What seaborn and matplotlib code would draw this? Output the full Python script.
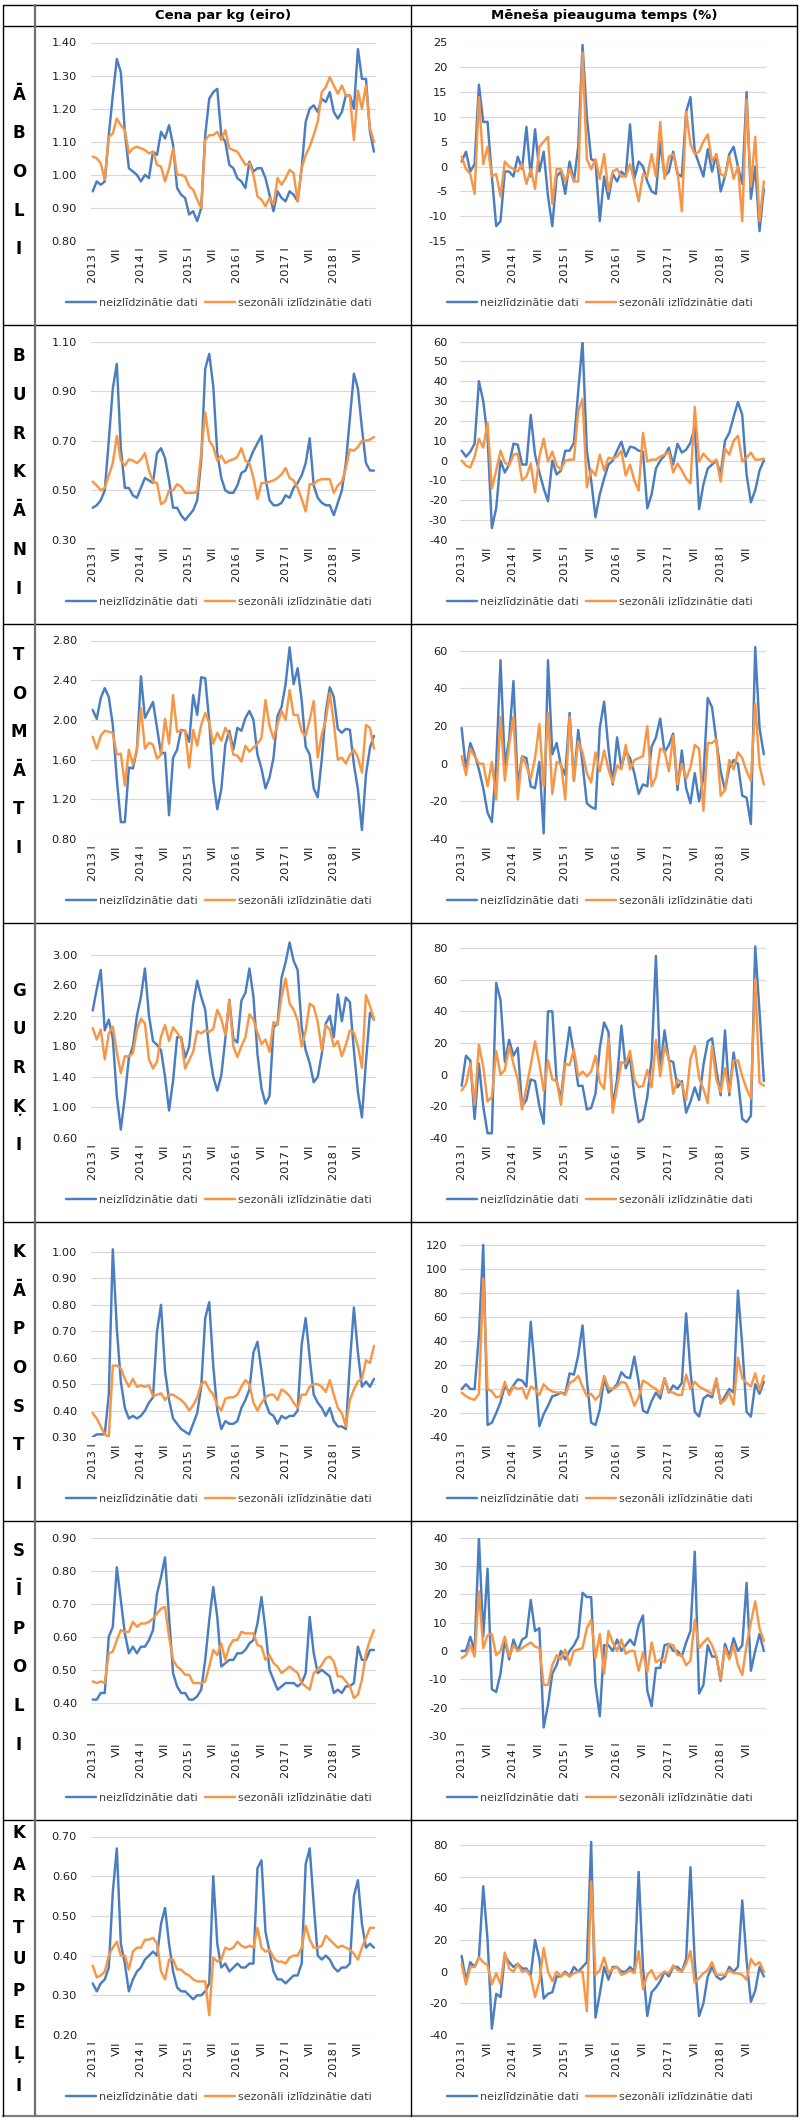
import numpy as np
import pandas as pd
import matplotlib
matplotlib.use("Agg")
import matplotlib.pyplot as plt
import seaborn as sns

sns.set_theme(style="white")
plt.rcParams["font.family"] = ["DejaVu Sans"]

# ---------------- data ----------------
tick_labels = ["2013 I", "VII", "2014 I", "VII", "2015 I", "VII",
               "2016 I", "VII", "2017 I", "VII", "2018 I", "VII"]
series_labels = ["neizlīdzinātie dati", "sezonāli izlīdzinātie dati"]
header_left = "Cena par kg (eiro)"
header_right = "Mēneša pieauguma temps (%)"
products = ["ĀBOLI", "BURKĀNI", "TOMĀTI", "GURĶI", "KĀPOSTI", "SĪPOLI", "KARTUPEĻI"]

aboli_price_raw = [0.95, 0.98, 0.97, 0.98, 1.12, 1.24, 1.35, 1.31, 1.13, 1.02,
                   1.01, 1.00, 0.98, 1.00, 0.99, 1.07, 1.06, 1.13, 1.11, 1.15,
                   1.09, 0.96, 0.94, 0.93, 0.88, 0.89, 0.86, 0.90, 1.12, 1.23,
                   1.25, 1.26, 1.12, 1.10, 1.03, 1.02, 0.99, 0.98, 0.96, 1.04,
                   1.01, 1.02, 1.02, 0.99, 0.94, 0.89, 0.95, 0.93, 0.92, 0.95,
                   0.94, 0.92, 1.02, 1.16, 1.20, 1.21, 1.19, 1.23, 1.22, 1.25,
                   1.19, 1.17, 1.19, 1.24, 1.24, 1.20, 1.38, 1.29, 1.29, 1.13, 1.07]
aboli_price_sa = [1.055, 1.05, 1.035, 0.985, 1.115, 1.125, 1.17, 1.15, 1.135, 1.065,
                  1.08, 1.085, 1.08, 1.075, 1.065, 1.07, 1.03, 1.025, 0.98, 1.02,
                  1.08, 1.00, 1.00, 0.995, 0.965, 0.955, 0.925, 0.90, 1.105, 1.12,
                  1.12, 1.13, 1.105, 1.135, 1.08, 1.075, 1.07, 1.05, 1.03, 1.035,
                  1.00, 0.935, 0.925, 0.905, 0.93, 0.91, 0.99, 0.97, 0.99, 1.015,
                  1.005, 0.92, 1.02, 1.06, 1.085, 1.12, 1.16, 1.25, 1.265, 1.295,
                  1.27, 1.245, 1.27, 1.24, 1.24, 1.105, 1.255, 1.20, 1.27, 1.14, 1.10]
aboli_growth_raw = [1, 3, -1, 0.5, 16.5, 9, 9, -2, -12, -11,
                    -1, -1, -2, 2, -0.5, 8, -2, 7.5, -1, 3,
                    -6, -12, -2, -1, -5.5, 1, -3, 4, 24.5, 10,
                    1.5, 1, -11, -2, -6.5, -1.5, -3, -1, -2, 8.5,
                    -2.5, 1, 0, -3, -5, -5.5, 5, -2, -1, 3,
                    -1.5, -2, 11, 14, 3, 0.5, -2, 3.5, -1, 2.5,
                    -5, -2, 2.5, 4, 0, -3.5, 15, -6.5, 0, -13, -4.5]
aboli_growth_sa = [2, -0.5, -1.5, -5.5, 14, 0.5, 4, -2, -1.5, -6,
                   1, 0, -0.5, -1, 0.5, -3.5, -0.5, -4.5, 4, 5,
                   6, -7.5, -0.5, -0.5, -3, -0.5, -3, -3, 23, 1.5,
                   -0.5, 1.5, -2.5, 2.5, -5, -1, -0.5, -2, -2, 0.5,
                   -3, -7, -1.5, -2, 2.5, -2, 9, -2.5, 2, 2.5,
                   -1, -9, 11, 4.5, 2.5, 3, 5, 6.5, 1, 2.5,
                   -1.5, -2, 2, -2.5, 0, -11, 13.5, -4, 6, -11, -3]

burkani_price_raw = [0.43, 0.44, 0.46, 0.50, 0.70, 0.91, 1.01, 0.67, 0.51, 0.51,
                     0.48, 0.47, 0.51, 0.55, 0.54, 0.53, 0.65, 0.67, 0.63, 0.54,
                     0.43, 0.43, 0.40, 0.38, 0.40, 0.42, 0.46, 0.62, 0.99, 1.05,
                     0.92, 0.65, 0.55, 0.50, 0.49, 0.49, 0.52, 0.57, 0.58, 0.62,
                     0.66, 0.69, 0.72, 0.55, 0.46, 0.44, 0.44, 0.45, 0.48, 0.47,
                     0.51, 0.53, 0.56, 0.61, 0.71, 0.52, 0.47, 0.45, 0.44, 0.44,
                     0.40, 0.45, 0.50, 0.61, 0.79, 0.97, 0.91, 0.75, 0.61, 0.58, 0.58]
burkani_price_sa = [0.535, 0.52, 0.50, 0.51, 0.56, 0.61, 0.72, 0.62, 0.60, 0.625,
                    0.62, 0.61, 0.625, 0.65, 0.58, 0.535, 0.53, 0.445, 0.455, 0.50,
                    0.50, 0.525, 0.515, 0.49, 0.49, 0.49, 0.495, 0.65, 0.815, 0.70,
                    0.675, 0.62, 0.64, 0.61, 0.62, 0.625, 0.635, 0.67, 0.62, 0.61,
                    0.55, 0.465, 0.53, 0.53, 0.535, 0.54, 0.55, 0.565, 0.59, 0.55,
                    0.54, 0.51, 0.465, 0.415, 0.525, 0.525, 0.54, 0.545, 0.545, 0.545,
                    0.49, 0.52, 0.535, 0.59, 0.665, 0.66, 0.675, 0.70, 0.70, 0.705, 0.715]
burkani_growth_raw = [5, 2, 4.5, 8.5, 40, 30, 12, -34, -24, 0,
                      -6, -2, 8.5, 8, -2, -2, 23, 3, -6, -14,
                      -20.5, 0, -7, -5, 5, 5, 9, 35, 60, 5,
                      -10, -28.5, -17, -9, -2, 0, 5, 9.5, 2, 7,
                      6.5, 5, 4.5, -24, -17, -4, 0, 2.5, 6.5, -2,
                      8.5, 4, 5.5, 9, 17, -24.5, -12, -4, -2, 0,
                      -7, 10, 14, 22, 29.5, 23, -7, -21, -15, -5, 0]
burkani_growth_sa = [0, -2.5, -3.5, 2, 11, 6.5, 19, -14, -5, 5,
                     -1, -2.5, 3, 3.5, -10, -8, -1.5, -16, 2, 11,
                     -0.5, 4.5, -2.5, -4.5, 0, 0.5, 0.5, 25, 31, -13.5,
                     -4.5, -7.5, 3, -5, 1.5, 1, 2, 5, -7.5, -2,
                     -10, -15, 14, -0.5, 0.5, 0.5, 2, 3, 4.5, -6,
                     -1.5, -5, -9, -11.5, 27, -0.5, 3.5, 1, -1, 0.5,
                     -10.5, 6, 3, 10, 12.5, -0.5, 1.5, 4, 0.5, 0.5, 1]

tomati_price_raw = [2.10, 2.01, 2.22, 2.32, 2.23, 1.95, 1.40, 0.97, 0.97, 1.52,
                    1.51, 1.70, 2.44, 2.02, 2.10, 2.18, 1.92, 1.66, 1.67, 1.04,
                    1.62, 1.70, 1.90, 1.89, 1.78, 2.25, 2.05, 2.43, 2.42, 1.98,
                    1.40, 1.10, 1.30, 1.75, 1.89, 1.70, 1.92, 1.89, 2.02, 2.09,
                    2.00, 1.65, 1.51, 1.31, 1.42, 1.62, 2.04, 2.13, 2.36, 2.73,
                    2.36, 2.52, 2.20, 1.73, 1.65, 1.31, 1.22, 1.60, 2.08, 2.33,
                    2.23, 1.91, 1.87, 1.91, 1.90, 1.55, 1.30, 0.89, 1.45, 1.72, 1.84]
tomati_price_sa = [1.83, 1.71, 1.84, 1.89, 1.88, 1.87, 1.65, 1.66, 1.34, 1.70,
                   1.55, 1.70, 2.12, 1.71, 1.77, 1.75, 1.61, 1.65, 2.01, 1.76,
                   2.25, 1.88, 1.89, 1.89, 1.52, 1.90, 1.74, 1.95, 2.07, 1.97,
                   1.76, 1.87, 1.79, 1.92, 1.85, 1.65, 1.64, 1.58, 1.74, 1.68,
                   1.72, 1.76, 1.82, 2.20, 1.94, 1.81, 1.96, 2.09, 2.00, 2.30,
                   2.05, 2.05, 1.88, 1.84, 2.00, 2.19, 1.62, 1.85, 2.00, 2.27,
                   1.97, 1.60, 1.62, 1.56, 1.65, 1.70, 1.62, 1.47, 1.95, 1.92, 1.71]
tomati_growth_raw = [19, -3, 11, 5, -3, -13, -26, -31, 0, 55,
                     -1, 13, 44, -12, 4, 3, -12, -13, 1, -37,
                     55, 5, 11, -1, -6, 27, -9, 18, 0, -21,
                     -23, -24, 19, 33, 8, -11, 14, -2, 7, 3,
                     -5, -16, -11, -12, 9, 14, 24, 6, 10, 16,
                     -14, 7, -13, -21, -5, -20, -7, 35, 30, 12,
                     -4, -14, -2, 2, 0, -17, -18, -32, 62, 19, 5]
tomati_growth_sa = [4, -6, 8, 4, 0, 0, -12, 1, -19, 25,
                    -9, 10, 25, -19, 4, -1, -8, 3, 21, -12,
                    27, -16, 1, 0, -19, 25, -9, 12, 6, -5,
                    -10, 6, -4, 7, -3, -10, -1, -3, 10, -3,
                    2, 3, 4, 20, -12, -7, 8, 7, -4, 15,
                    -11, 0, -8, -2, 10, 8, -25, 11, 11, 13,
                    -17, -14, 2, -3, 6, 3, -4, -9, 32, -1, -11]

gurki_price_raw = [2.27, 2.55, 2.80, 2.01, 2.15, 1.90, 1.15, 0.71, 1.14, 1.65,
                   1.80, 2.20, 2.45, 2.82, 2.20, 1.87, 1.82, 1.75, 1.40, 0.96,
                   1.35, 1.92, 1.92, 1.65, 1.80, 2.35, 2.66, 2.45, 2.28, 1.75,
                   1.40, 1.22, 1.42, 1.90, 2.41, 1.90, 1.85, 2.40, 2.50, 2.82,
                   2.45, 1.70, 1.25, 1.05, 1.15, 2.05, 2.10, 2.70, 2.90, 3.16,
                   2.92, 2.80, 2.05, 1.75, 1.58, 1.33, 1.40, 1.70, 2.10, 2.20,
                   1.92, 2.48, 2.13, 2.44, 2.38, 1.75, 1.20, 0.87, 1.60, 2.24, 2.15]
gurki_price_sa = [2.04, 1.89, 2.02, 1.63, 1.97, 2.06, 1.72, 1.45, 1.67, 1.67,
                  1.71, 2.02, 2.16, 2.10, 1.63, 1.51, 1.60, 1.93, 2.08, 1.87,
                  2.05, 1.98, 1.90, 1.51, 1.62, 1.73, 2.00, 1.97, 2.01, 1.99,
                  2.03, 2.28, 2.16, 1.95, 2.40, 1.80, 1.66, 1.80, 1.92, 2.22,
                  2.15, 1.98, 1.83, 1.89, 1.73, 2.12, 2.08, 2.45, 2.69, 2.36,
                  2.28, 2.14, 1.80, 2.00, 2.36, 2.32, 2.12, 1.75, 2.08, 2.02,
                  1.80, 1.87, 1.67, 1.82, 2.01, 1.98, 1.80, 1.52, 2.47, 2.33, 2.15]
gurki_growth_raw = [-7, 12, 9, -28, 7, -20, -37, -37, 58, 47,
                    8, 22, 12, 17, -20, -16, -3, -4, -20, -31,
                    40, 40, -4, -15, 10, 30, 13, -7, -7, -22,
                    -21, -12, 17, 33, 27, -20, -3, 31, 4, 11,
                    -13, -30, -28, -14, 10, 75, 3, 28, 9, 8,
                    -8, -4, -24, -17, -8, -16, 6, 21, 23, 3,
                    -13, 28, -13, 14, -3, -28, -30, -26, 81, 40, -4]
gurki_growth_sa = [-10, -6, 7, -19, 19, 5, -17, -14, 15, 0,
                   3, 18, 7, -3, -22, -8, 6, 21, 7, -10,
                   9, -3, -4, -19, 7, 6, 16, -1, 2, -1,
                   2, 12, -5, -9, 23, -24, -8, 8, 7, 15,
                   -3, -8, -7, 3, -8, 22, -1, 18, 10, -12,
                   -3, -6, -16, 10, 18, -2, -9, -18, 18, -3,
                   -11, 4, -11, 9, 9, -1, -9, -15, 60, -5, -7]

kaposti_price_raw = [0.30, 0.31, 0.31, 0.31, 0.46, 1.01, 0.71, 0.51, 0.41, 0.37,
                     0.38, 0.37, 0.38, 0.40, 0.43, 0.45, 0.70, 0.80, 0.55, 0.44,
                     0.37, 0.35, 0.33, 0.32, 0.31, 0.35, 0.39, 0.49, 0.75, 0.81,
                     0.57, 0.40, 0.33, 0.36, 0.35, 0.35, 0.36, 0.41, 0.44, 0.48,
                     0.62, 0.66, 0.55, 0.43, 0.39, 0.38, 0.35, 0.38, 0.37, 0.38,
                     0.38, 0.40, 0.65, 0.75, 0.60, 0.46, 0.43, 0.41, 0.38, 0.41,
                     0.36, 0.34, 0.34, 0.33, 0.58, 0.79, 0.62, 0.49, 0.51, 0.49, 0.52]
kaposti_price_sa = [0.39, 0.37, 0.34, 0.31, 0.30, 0.57, 0.57, 0.56, 0.52, 0.49,
                    0.52, 0.49, 0.495, 0.49, 0.495, 0.455, 0.46, 0.465, 0.44, 0.46,
                    0.46, 0.45, 0.44, 0.425, 0.40, 0.42, 0.45, 0.50, 0.51, 0.48,
                    0.46, 0.42, 0.40, 0.445, 0.45, 0.45, 0.46, 0.49, 0.515, 0.50,
                    0.43, 0.40, 0.43, 0.45, 0.46, 0.46, 0.44, 0.48, 0.47, 0.455,
                    0.43, 0.41, 0.46, 0.46, 0.49, 0.50, 0.50, 0.49, 0.47, 0.515,
                    0.46, 0.41, 0.39, 0.34, 0.44, 0.48, 0.51, 0.52, 0.59, 0.58, 0.645]
kaposti_growth_raw = [0, 4, 0, 0, 45, 120, -30, -28, -20, -11,
                      3, -3, 3, 8, 7, 2, 56, 14, -31, -21,
                      -14, -6, -5, -3, -4, 13, 12, 28, 53, 8,
                      -28, -30, -17, 9, -3, 0, 4, 14, 10, 9,
                      27, 6, -18, -20, -10, -3, -8, 9, -3, 3,
                      0, 5, 63, 15, -19, -23, -8, -5, -7, 8,
                      -12, -6, 0, -3, 82, 36, -19, -23, 4, -4, 6]
kaposti_growth_sa = [-3, -6, -8, -9, -4, 92, 0, -2, -7, -6,
                     6, -5, 2, 0, 1, -8, 2, 0, -5, 4,
                     0, -2, -3, -3, -5, 5, 7, 11, 2, -6,
                     -4, -9, -5, 11, 1, 0, 2, 6, 5, -3,
                     -14, -7, 7, 5, 2, 0, -4, 9, -2, -3,
                     -5, -5, 12, 0, 6, 2, 0, -2, -4, 9,
                     -12, -9, -3, -13, 26, 9, 5, 2, 13, -1, 11]

sipoli_price_raw = [0.41, 0.41, 0.43, 0.43, 0.60, 0.63, 0.81, 0.71, 0.61, 0.55,
                    0.57, 0.55, 0.57, 0.57, 0.59, 0.62, 0.73, 0.78, 0.84, 0.66,
                    0.49, 0.45, 0.43, 0.43, 0.41, 0.41, 0.42, 0.44, 0.53, 0.65,
                    0.75, 0.66, 0.51, 0.52, 0.53, 0.53, 0.55, 0.55, 0.56, 0.58,
                    0.59, 0.64, 0.72, 0.62, 0.50, 0.47, 0.44, 0.45, 0.46, 0.46,
                    0.46, 0.45, 0.46, 0.49, 0.66, 0.55, 0.49, 0.50, 0.49, 0.48,
                    0.43, 0.44, 0.43, 0.45, 0.45, 0.46, 0.57, 0.53, 0.53, 0.56, 0.56]
sipoli_price_sa = [0.465, 0.46, 0.465, 0.46, 0.55, 0.555, 0.59, 0.62, 0.615, 0.615,
                   0.645, 0.63, 0.64, 0.64, 0.645, 0.655, 0.67, 0.685, 0.69, 0.60,
                   0.53, 0.51, 0.50, 0.485, 0.485, 0.46, 0.46, 0.46, 0.465, 0.51,
                   0.56, 0.545, 0.58, 0.53, 0.57, 0.59, 0.59, 0.615, 0.61, 0.61,
                   0.61, 0.575, 0.57, 0.53, 0.545, 0.52, 0.51, 0.49, 0.50, 0.51,
                   0.50, 0.49, 0.46, 0.45, 0.44, 0.49, 0.50, 0.515, 0.535, 0.54,
                   0.525, 0.48, 0.48, 0.465, 0.45, 0.415, 0.425, 0.47, 0.55, 0.59, 0.62]
sipoli_growth_raw = [0, 0, 5, 0, 40, 5, 29, -13.5, -14.5, -8,
                     4, -3, 4, 0, 4, 5, 18, 7, 8, -27,
                     -19, -8, -5, 0, -3, 0, 2, 5, 20.5, 19,
                     19, -12, -23, 2, 2, 0, 4, 0, 2, 4,
                     2, 9, 12.5, -14, -19.5, -6, -6, 2, 2.5, 0,
                     0, -2, 3, 7, 35, -15, -12, 2, -2, -2,
                     -10.5, 2.5, -2, 4.5, 0, 2, 24, -7, 0, 6, 0]
sipoli_growth_sa = [-2.5, -1.5, 2, -2, 21, 1, 5.5, 6, -1.5, 0,
                    5, -2, 2, 0, 1, 2, 3, 1.5, 1, -12,
                    -12, -5, -1.5, -3, 0.5, -5, 0, 0.5, 1, 8,
                    11, -2.5, 6, -8, 7, 3, 0, 4, -1, 0,
                    0, -7, -0.5, -7.5, 3, -4, -3, -4, 2.5, 2,
                    -1.5, -1.5, -5, -3.5, 11, 1, 3, 4.5, 2, -2,
                    -10, 1, -3, 2, -5, -8.5, 2, 10, 17.5, 8, 3.5]

kartupeli_price_raw = [0.33, 0.31, 0.33, 0.34, 0.37, 0.56, 0.67, 0.43, 0.38, 0.31,
                       0.34, 0.36, 0.37, 0.39, 0.40, 0.41, 0.40, 0.48, 0.52, 0.43,
                       0.36, 0.32, 0.31, 0.31, 0.30, 0.29, 0.30, 0.30, 0.31, 0.33,
                       0.60, 0.43, 0.37, 0.38, 0.36, 0.37, 0.38, 0.37, 0.37, 0.38,
                       0.38, 0.62, 0.64, 0.46, 0.41, 0.36, 0.34, 0.34, 0.33, 0.34,
                       0.35, 0.35, 0.38, 0.63, 0.67, 0.53, 0.40, 0.39, 0.40, 0.39,
                       0.37, 0.36, 0.37, 0.37, 0.38, 0.55, 0.59, 0.48, 0.42, 0.43, 0.42]
kartupeli_price_sa = [0.375, 0.345, 0.35, 0.36, 0.40, 0.42, 0.435, 0.40, 0.40, 0.365,
                      0.41, 0.42, 0.42, 0.44, 0.44, 0.445, 0.43, 0.36, 0.34, 0.39,
                      0.39, 0.365, 0.365, 0.355, 0.35, 0.34, 0.335, 0.335, 0.335, 0.25,
                      0.395, 0.385, 0.39, 0.42, 0.415, 0.42, 0.435, 0.425, 0.42, 0.425,
                      0.42, 0.47, 0.42, 0.41, 0.415, 0.395, 0.385, 0.385, 0.38, 0.395,
                      0.40, 0.40, 0.42, 0.475, 0.44, 0.42, 0.42, 0.425, 0.45, 0.44,
                      0.43, 0.42, 0.425, 0.42, 0.415, 0.405, 0.39, 0.42, 0.445, 0.47, 0.47]
kartupeli_growth_raw = [10, -6, 6, 3, 9, 54, 20, -36, -14, -16,
                        10, 6, 3, 5, 2, 2, -2, 20, 8, -17,
                        -14, -13, -3, -3, 0, -3, 3, 0, 3, 6,
                        82, -29, -14, 3, -5, 3, 3, 0, 0, 3,
                        0, 63, 3, -28, -13, -10, -6, 0, -3, 3,
                        3, 0, 8, 66, 6, -28, -20, -3, 3, -3,
                        -5, -3, 3, 0, 3, 45, 7, -19, -12, 3, -3]
kartupeli_growth_sa = [5, -8, 3, 3, 9, 6, 4, -8, -1, -8,
                       12, 2, 0, 5, 0, 1, -3, -16, -6, 15,
                       0, -6, 0, -3, -1, -3, -1, 0, 0, -25,
                       57, -2, 1, 9, -1, 2, 3, -2, -1, 1,
                       -1, 13, -11, -2, 1, -5, -2, 0, -1, 4,
                       1, 0, 5, 13, -7, -4, -1, 1, 6, -2,
                       -2, -2, 1, -1, -1, -2, -5, 8, 4, 6, 0]

price_yticks = [
    [0.80, 0.90, 1.00, 1.10, 1.20, 1.30, 1.40],
    [0.30, 0.50, 0.70, 0.90, 1.10],
    [0.80, 1.20, 1.60, 2.00, 2.40, 2.80],
    [0.60, 1.00, 1.40, 1.80, 2.20, 2.60, 3.00],
    [0.30, 0.40, 0.50, 0.60, 0.70, 0.80, 0.90, 1.00],
    [0.30, 0.40, 0.50, 0.60, 0.70, 0.80, 0.90],
    [0.20, 0.30, 0.40, 0.50, 0.60, 0.70],
]
growth_yticks = [
    [-15, -10, -5, 0, 5, 10, 15, 20, 25],
    [-40, -30, -20, -10, 0, 10, 20, 30, 40, 50, 60],
    [-40, -20, 0, 20, 40, 60],
    [-40, -20, 0, 20, 40, 60, 80],
    [-40, -20, 0, 20, 40, 60, 80, 100, 120],
    [-30, -20, -10, 0, 10, 20, 30, 40],
    [-40, -20, 0, 20, 40, 60, 80],
]
price_ymax = [1.40, 1.10, 2.80, 3.20, 1.051, 0.90, 0.70]
growth_ymax = [25, 60, 65.5, 85.4, 125.4, 40, 85.4]

rows = [
    (aboli_price_raw, aboli_price_sa, aboli_growth_raw, aboli_growth_sa),
    (burkani_price_raw, burkani_price_sa, burkani_growth_raw, burkani_growth_sa),
    (tomati_price_raw, tomati_price_sa, tomati_growth_raw, tomati_growth_sa),
    (gurki_price_raw, gurki_price_sa, gurki_growth_raw, gurki_growth_sa),
    (kaposti_price_raw, kaposti_price_sa, kaposti_growth_raw, kaposti_growth_sa),
    (sipoli_price_raw, sipoli_price_sa, sipoli_growth_raw, sipoli_growth_sa),
    (kartupeli_price_raw, kartupeli_price_sa, kartupeli_growth_raw, kartupeli_growth_sa),
]

# ---------------- layout (pixels) ----------------
W, H = 800, 2125
BLUE = "#4a7ec1"
ORANGE = "#f79646"
TICK_TXT = "#1f1f1f"
LEG_TXT = "#404040"
HEADER_TOP, HEADER_BOT = 5, 26
ROW_H = 299
LEFT_X = (90.7, 376.0)
RIGHT_X = (459.5, 766.0)
PLOT_TOP, PLOT_BOT = 16.5, 215.0
LEGEND_Y = 277
LEGEND_CX = (219, 600)
letter_start = [68, 30, 30, 67, 29, 29, 12]
letter_step = [38.5, 38.8, 38.6, 38.5, 38.7, 38.8, 31.6]

fig = plt.figure(figsize=(W / 100, H / 100), dpi=100)
fig.patch.set_facecolor("white")

bg = fig.add_axes([0, 0, 1, 1])
bg.set_xlim(0, W)
bg.set_ylim(H, 0)
bg.axis("off")
bg.set_zorder(-1)

row_tops = [HEADER_BOT + ROW_H * k for k in range(len(products))]
table_bottom = HEADER_BOT + ROW_H * len(products) - 3

# table grid
for y in [HEADER_TOP, HEADER_BOT] + row_tops[1:]:
    bg.plot([3, 797], [y, y], color="black", lw=1.0, solid_capstyle="butt")
bg.plot([3, 797], [table_bottom, table_bottom], color="#7f7f7f", lw=1.6)
bg.plot([3, 3], [HEADER_TOP, table_bottom], color="black", lw=1.0)
bg.plot([797, 797], [HEADER_TOP, table_bottom], color="black", lw=1.0)
bg.plot([411, 411], [HEADER_TOP, table_bottom], color="black", lw=1.0)
bg.plot([35, 35], [HEADER_TOP, table_bottom], color="#6f6f6f", lw=1.6)

bg.text(223, 16, header_left, ha="center", va="center", fontsize=9.5,
        fontweight="bold", color="black")
bg.text(604, 16, header_right, ha="center", va="center", fontsize=9.5,
        fontweight="bold", color="black")

for k, name in enumerate(products):
    top = row_tops[k]
    for j, ch in enumerate(name):
        yc = top + letter_start[k] + j * letter_step[k]
        bg.text(19, yc + 6, ch, ha="center", va="baseline", fontsize=12,
                fontweight="bold", color="black")


def make_axes(xr, top):
    x0, x1 = xr
    y0, y1 = top + PLOT_TOP, top + PLOT_BOT
    return fig.add_axes([x0 / W, 1 - y1 / H, (x1 - x0) / W, (y1 - y0) / H])


for k, (p_raw, p_sa, g_raw, g_sa) in enumerate(rows):
    top = row_tops[k]
    specs = [
        (LEFT_X, p_raw, p_sa, price_yticks[k], price_ymax[k], "{:.2f}", LEGEND_CX[0], 9.8),
        (RIGHT_X, g_raw, g_sa, growth_yticks[k], growth_ymax[k], "{:g}", LEGEND_CX[1], 8.6),
    ]
    for xr, raw, sa, yt, ymax, fmt, lcx, pad in specs:
        ax = make_axes(xr, top)
        ax.set_facecolor("none")
        df = pd.DataFrame({"m": np.arange(len(raw)), "raw": raw, "sa": sa})
        sns.lineplot(data=df, x="m", y="raw", ax=ax, color=BLUE, linewidth=1.75,
                     label=series_labels[0])
        sns.lineplot(data=df, x="m", y="sa", ax=ax, color=ORANGE, linewidth=1.75,
                     label=series_labels[1])
        ax.set_xlim(-0.5, len(raw) - 0.5)
        ax.set_ylim(yt[0], ymax)
        ax.set_yticks(yt)
        ax.set_yticklabels([fmt.format(v) for v in yt])
        ax.set_xticks(np.arange(0, len(raw), 6))
        ax.set_xticklabels(tick_labels, rotation=90)
        ax.set_xlabel("")
        ax.set_ylabel("")
        ax.grid(axis="y", color="#d9d9d9", linewidth=0.9)
        ax.grid(axis="x", visible=False)
        ax.set_axisbelow(True)
        for s in ax.spines.values():
            s.set_visible(False)
        ax.tick_params(axis="both", length=0, labelsize=8.2, colors=TICK_TXT)
        ax.tick_params(axis="y", pad=pad)
        ax.tick_params(axis="x", pad=4.5)
        handles, labels = ax.get_legend_handles_labels()
        ax.legend(handles, labels, loc="center",
                  bbox_to_anchor=(lcx / W, 1 - (top + LEGEND_Y) / H),
                  bbox_transform=fig.transFigure, ncol=2, frameon=False,
                  fontsize=8, handlelength=2.7, handletextpad=0.25,
                  columnspacing=0.7, labelcolor=LEG_TXT, borderaxespad=0,
                  borderpad=0)

fig.savefig("out.png", dpi=100, facecolor="white")
